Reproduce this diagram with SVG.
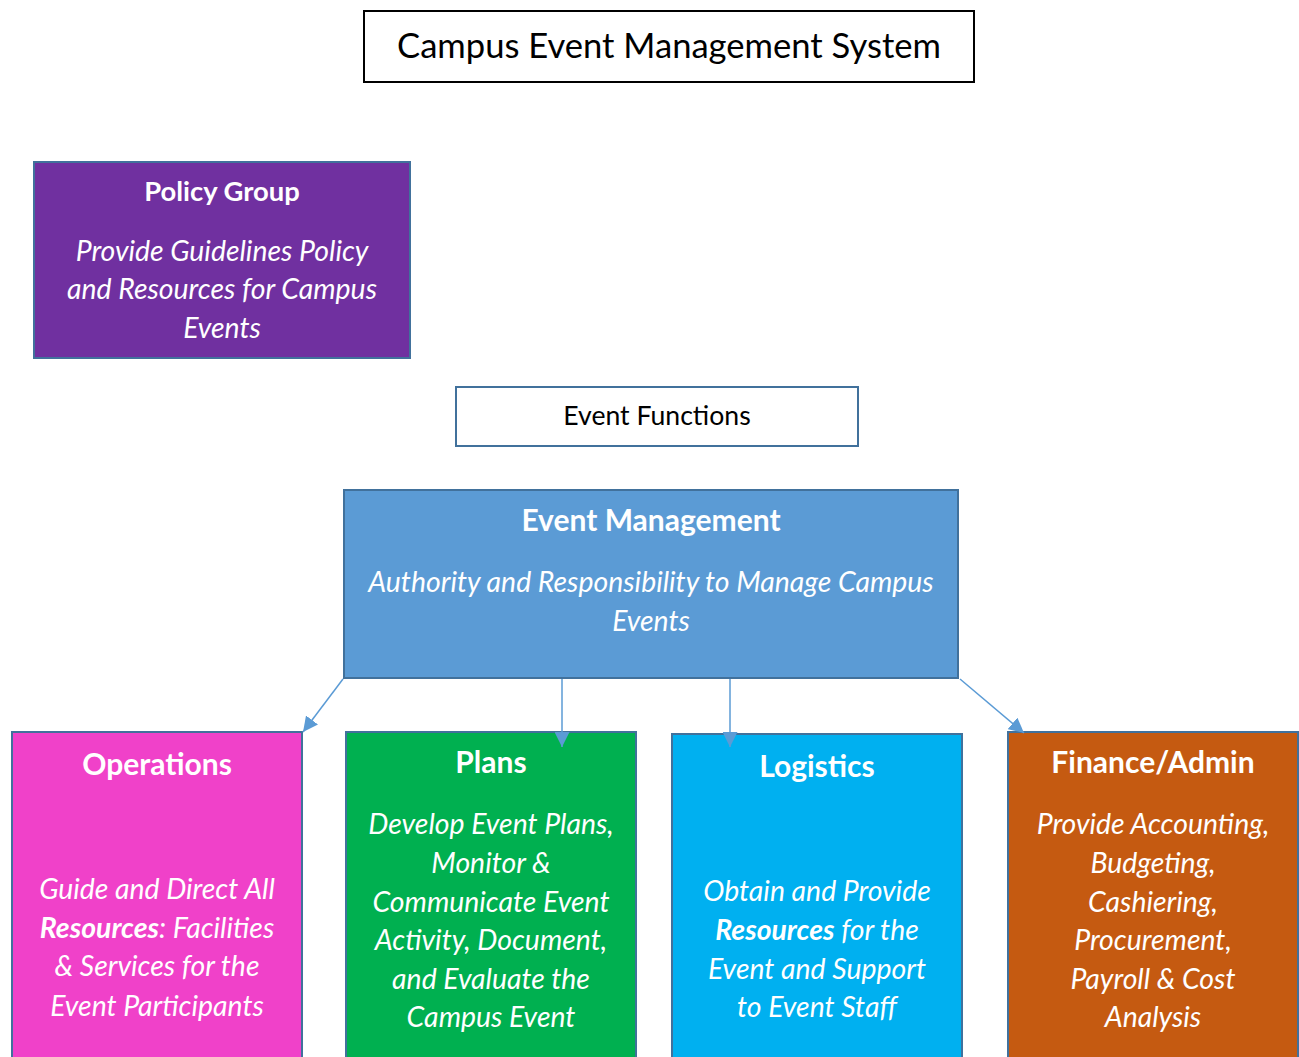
<svg xmlns="http://www.w3.org/2000/svg" width="1299" height="1057" viewBox="0 0 1299 1057">
<style>
text{font-family:Lato,"Open Sans","Liberation Sans",sans-serif;text-anchor:middle}
.hd{font-weight:bold;fill:#fff;font-size:30px}
.hs{font-size:27.4px}
.it{font-style:italic;fill:#fff;font-size:28.4px}
.b{font-weight:bold}
.box{stroke:#41719c;stroke-width:2}
.conn{stroke:#5b9bd5;stroke-width:1.5;fill:none}
</style>
<defs>
<marker id="ah" viewBox="0 0 10 10" refX="10" refY="5" markerWidth="15" markerHeight="15" markerUnits="userSpaceOnUse" orient="auto">
<path d="M0,0 L10,5 L0,10 z" fill="#5b9bd5"/>
</marker>
</defs>
<rect width="1299" height="1057" fill="#fff"/>
<g id="title">
<rect x="364" y="11" width="610" height="71" fill="#fff" stroke="#000" stroke-width="2"/>
<text x="669" y="58" font-size="34.6" fill="#000">Campus Event Management System</text>
</g>
<g id="policy">
<rect class="box" x="34" y="162" width="376" height="196" fill="#7030a0"/>
<text class="hd hs" x="222" y="201">Policy Group</text>
<text class="it" x="222" y="261">Provide Guidelines Policy</text>
<text class="it" x="222" y="299">and Resources for Campus</text>
<text class="it" x="222" y="338">Events</text>
</g>
<g id="functions">
<rect class="box" x="456" y="387" width="402" height="59" fill="#fff"/>
<text x="657" y="425" font-size="26.6" fill="#000">Event Functions</text>
</g>
<g id="mgmt">
<rect class="box" x="344" y="490" width="614" height="188" fill="#5b9bd5"/>
<text class="hd" x="651" y="531">Event Management</text>
<text class="it" x="651" y="592">Authority and Responsibility to Manage Campus</text>
<text class="it" x="651" y="631">Events</text>
</g>
<g id="operations">
<rect class="box" x="12" y="732" width="290" height="340" fill="#f041c9"/>
<text class="hd" x="157" y="775">Operations</text>
<text class="it" x="157" y="899">Guide and Direct All</text>
<text class="it" x="157" y="938"><tspan class="b">Resources</tspan>: Facilities</text>
<text class="it" x="157" y="976">&amp; Services for the</text>
<text class="it" x="157" y="1016">Event Participants</text>
</g>
<g id="plans">
<rect class="box" x="346" y="732" width="290" height="340" fill="#00b050"/>
<text class="hd" x="491" y="773">Plans</text>
<text class="it" x="491" y="834">Develop Event Plans,</text>
<text class="it" x="491" y="873">Monitor &amp;</text>
<text class="it" x="491" y="912">Communicate Event</text>
<text class="it" x="491" y="950">Activity, Document,</text>
<text class="it" x="491" y="989">and Evaluate the</text>
<text class="it" x="491" y="1027">Campus Event</text>
</g>
<g id="logistics">
<rect class="box" x="672" y="734" width="290" height="340" fill="#00b0f0"/>
<text class="hd" x="817" y="777">Logistics</text>
<text class="it" x="817" y="901">Obtain and Provide</text>
<text class="it" x="817" y="940"><tspan class="b">Resources</tspan> for the</text>
<text class="it" x="817" y="979">Event and Support</text>
<text class="it" x="817" y="1017">to Event Staff</text>
</g>
<g id="finance">
<rect class="box" x="1008" y="732" width="290" height="340" fill="#c55a11"/>
<text class="hd" x="1153" y="773">Finance/Admin</text>
<text class="it" x="1153" y="834">Provide Accounting,</text>
<text class="it" x="1153" y="873">Budgeting,</text>
<text class="it" x="1153" y="912">Cashiering,</text>
<text class="it" x="1153" y="950">Procurement,</text>
<text class="it" x="1153" y="989">Payroll &amp; Cost</text>
<text class="it" x="1153" y="1027">Analysis</text>
</g>
<g id="connectors">
<line class="conn" x1="343" y1="679" x2="303" y2="732" marker-end="url(#ah)"/>
<line class="conn" x1="562" y1="679" x2="562" y2="747" marker-end="url(#ah)"/>
<line class="conn" x1="730" y1="679" x2="730" y2="747" marker-end="url(#ah)"/>
<line class="conn" x1="960" y1="679" x2="1024" y2="733" marker-end="url(#ah)"/>
</g>
</svg>
